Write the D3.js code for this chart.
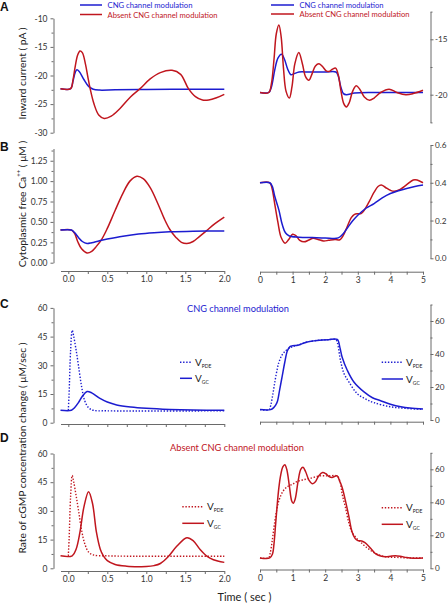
<!DOCTYPE html>
<html><head><meta charset="utf-8">
<script src="https://cdn.jsdelivr.net/npm/d3@7"></script>
<style>
body{margin:0;background:#fff}
svg{display:block}
text{font-family:Lato,"Open Sans",sans-serif;fill:#222}
.axis path,.axis line{stroke:#6a6a6a;stroke-width:1}
.axis text{font-size:8.5px;fill:#333;font-family:Lato,"Open Sans",sans-serif}
</style>
</head><body>
<svg id="c" width="448" height="605"></svg>
<script>
// ---------------- DATA ----------------
const blueName = "CNG channel modulation";
const redName = "Absent CNG channel modulation";

// tick values
const xLeftMajor = [0, 0.5, 1.0, 1.5, 2.0];
const xLeftMinor = [0.25, 0.75, 1.25, 1.75];
const xRightMajor = [0, 1, 2, 3, 4, 5];
const xRightMinor = [0.5, 1.5, 2.5, 3.5, 4.5];
const aLeftMajor = [-30, -25, -20, -15, -10];
const aLeftMinor = [-27.5, -22.5, -17.5, -12.5];
const aRightMajor = [-20, -15];
const aRightMinor = [-22.5, -17.5, -12.5];
const bLeftMajor = [0, 0.25, 0.5, 0.75, 1.0, 1.25];
const bLeftMinor = [0.125, 0.375, 0.625, 0.875, 1.125, 1.375];
const bRightMajor = [0, 0.2, 0.4, 0.6];
const bRightMinor = [0.1, 0.3, 0.5];
const cdLeftMajor = [0, 15, 30, 45, 60];
const cdLeftMinor = [7.5, 22.5, 37.5, 52.5];
const cdRightMajor = [0, 20, 40, 60];
const cdRightMinor = [10, 30, 50, 70];

// Panel A : inward current (pA)
const aLeftCNG = [[-0.1,-22.3],[0.03,-22.3],[0.06,-21.0],[0.09,-19.4],[0.11,-19.0],[0.14,-19.3],[0.2,-20.7],[0.26,-21.9],[0.32,-22.4],[0.4,-22.55],[0.6,-22.5],[1.0,-22.45],[1.5,-22.4],[2.0,-22.4]];
const aLeftAbsent = [[-0.1,-22.3],[0.03,-22.3],[0.06,-20.8],[0.09,-18.3],[0.12,-16.4],[0.15,-15.7],[0.18,-16.0],[0.22,-18.0],[0.25,-20.2],[0.28,-22.3],[0.33,-25.0],[0.39,-26.9],[0.46,-27.5],[0.55,-27.1],[0.66,-25.8],[0.8,-23.7],[0.92,-22.3],[1.05,-20.6],[1.18,-19.5],[1.33,-19.1],[1.44,-19.8],[1.54,-22.3],[1.63,-23.7],[1.72,-24.3],[1.8,-24.3],[1.9,-23.9],[2.0,-23.3]];
const aRightCNG = [[0,-19.8],[0.27,-19.8],[0.35,-19.3],[0.45,-17.8],[0.55,-16.7],[0.66,-16.35],[0.75,-16.8],[0.85,-17.7],[0.95,-18.2],[1.05,-18.1],[1.2,-17.95],[1.5,-17.95],[2.0,-17.95],[2.33,-17.95],[2.4,-18.3],[2.48,-19.3],[2.56,-19.9],[2.65,-20.0],[2.9,-19.85],[3.5,-19.8],[5.0,-19.8]];
const aRightAbsent = [[0,-19.8],[0.27,-19.8],[0.35,-19.0],[0.43,-16.8],[0.5,-14.5],[0.58,-13.7],[0.65,-14.8],[0.72,-17.6],[0.8,-19.7],[0.9,-20.3],[0.98,-19.3],[1.07,-17.2],[1.19,-16.2],[1.3,-17.2],[1.4,-18.4],[1.5,-18.7],[1.6,-18.1],[1.7,-17.4],[1.81,-17.2],[1.93,-17.5],[2.03,-17.85],[2.12,-17.9],[2.22,-17.7],[2.32,-17.6],[2.4,-18.2],[2.48,-19.6],[2.57,-20.8],[2.65,-21.1],[2.74,-20.7],[2.84,-19.7],[2.95,-19.2],[3.06,-19.5],[3.2,-20.2],[3.36,-20.5],[3.5,-20.3],[3.7,-19.8],[3.96,-19.5],[4.2,-19.8],[4.47,-20.0],[4.7,-19.9],[5.0,-19.6]];

// Panel B : cytoplasmic free Ca (uM)
const bLeftCNG = [[-0.1,0.4],[0.04,0.4],[0.08,0.37],[0.13,0.31],[0.18,0.26],[0.24,0.235],[0.3,0.245],[0.4,0.27],[0.5,0.29],[0.7,0.325],[0.9,0.352],[1.1,0.368],[1.3,0.378],[1.6,0.386],[2.0,0.39]];
const bLeftAbsent = [[-0.1,0.4],[0.04,0.4],[0.08,0.36],[0.12,0.26],[0.17,0.17],[0.24,0.12],[0.3,0.14],[0.36,0.2],[0.43,0.29],[0.5,0.42],[0.6,0.64],[0.7,0.85],[0.79,1.0],[0.88,1.06],[0.96,1.03],[1.05,0.92],[1.15,0.72],[1.23,0.54],[1.3,0.41],[1.38,0.31],[1.45,0.25],[1.52,0.235],[1.6,0.26],[1.68,0.32],[1.77,0.39],[1.88,0.48],[2.0,0.56]];
const bRightCNG = [[0,0.4],[0.3,0.4],[0.38,0.38],[0.45,0.33],[0.58,0.255],[0.68,0.18],[0.78,0.135],[0.9,0.118],[1.2,0.112],[1.6,0.11],[2.0,0.108],[2.4,0.108],[2.55,0.13],[2.7,0.165],[2.85,0.2],[3.0,0.228],[3.25,0.265],[3.5,0.29],[3.75,0.32],[4.0,0.343],[4.25,0.358],[4.5,0.37],[4.75,0.38],[5.0,0.388]];
const bRightAbsent = [[0,0.4],[0.3,0.4],[0.37,0.37],[0.45,0.29],[0.55,0.19],[0.65,0.11],[0.77,0.08],[0.88,0.1],[1.0,0.127],[1.1,0.12],[1.22,0.095],[1.35,0.087],[1.5,0.097],[1.63,0.106],[1.78,0.1],[1.95,0.092],[2.1,0.095],[2.3,0.1],[2.45,0.098],[2.55,0.12],[2.68,0.17],[2.8,0.215],[2.9,0.233],[3.0,0.236],[3.1,0.237],[3.2,0.255],[3.35,0.3],[3.5,0.35],[3.62,0.38],[3.72,0.388],[3.85,0.375],[4.0,0.36],[4.12,0.355],[4.3,0.365],[4.5,0.39],[4.7,0.415],[4.82,0.415],[5.0,0.4]];

// Panel C : rate of cGMP concentration change (uM/sec), CNG modulation
const cLeftPDE = [[0,6.5],[0.01,15],[0.03,38],[0.05,48.3],[0.07,45],[0.1,38],[0.13,30],[0.17,19],[0.21,11.5],[0.26,7.8],[0.32,6.5],[0.5,6.2],[2.0,6.2]];
const cLeftGC = [[-0.1,6.5],[0.04,6.5],[0.08,7.8],[0.13,10.5],[0.18,13.8],[0.24,16.3],[0.3,15.6],[0.4,12.8],[0.5,10.8],[0.62,9.3],[0.8,8.2],[1.0,7.5],[1.3,6.9],[1.6,6.6],[2.0,6.5]];
const cRightPDE = [[0,6.3],[0.28,6.3],[0.33,9],[0.38,14],[0.43,20],[0.5,28],[0.58,35],[0.68,39.5],[0.79,42],[0.9,43.5],[1.0,44.5],[1.2,45.5],[1.45,47.3],[1.75,48.2],[2.1,48.7],[2.32,48.7],[2.37,47],[2.47,36],[2.58,28],[2.73,23],[2.98,16],[3.25,12.6],[3.5,10.5],[4.0,8],[4.5,7],[5.0,6.5]];
const cRightGC = [[0,6.3],[0.33,6.3],[0.42,7.5],[0.48,9],[0.53,11],[0.6,18],[0.68,26.5],[0.76,35],[0.84,42],[0.92,44.5],[1.0,45],[1.15,45.3],[1.3,46.3],[1.45,47.3],[1.75,48.2],[2.1,48.7],[2.37,48.8],[2.45,44],[2.52,38],[2.68,30],[2.88,23],[3.19,17],[3.45,13.5],[3.7,11.7],[4.0,9.6],[4.32,8],[4.6,7.2],[5.0,6.7]];

// Panel D : rate of cGMP concentration change (uM/sec), absent CNG modulation
const dLeftPDE = [[0,6.5],[0.01,15],[0.03,38],[0.05,48.5],[0.07,45],[0.1,38],[0.13,30.5],[0.17,20],[0.21,13],[0.26,8.5],[0.32,7],[0.5,6.5],[2.0,6.3]];
const dLeftGC = [[-0.1,6.5],[0.05,6.5],[0.1,10],[0.15,19],[0.2,32],[0.26,40],[0.31,34],[0.36,19],[0.41,10],[0.45,6.5],[0.5,4],[0.6,2],[0.75,1.1],[0.9,0.85],[1.0,0.9],[1.1,1.4],[1.18,2.5],[1.28,6],[1.39,11.5],[1.52,16],[1.6,14.5],[1.69,9.8],[1.78,6.2],[1.86,4.5],[2.0,3.1]];
const dRightPDE = [[0,6.3],[0.26,6.3],[0.31,9],[0.37,16],[0.43,25],[0.5,34],[0.58,41],[0.7,46.5],[0.84,49.5],[1.0,51],[1.13,52.5],[1.3,53.5],[1.53,54.5],[1.84,56],[2.1,56],[2.36,56],[2.45,53],[2.52,45],[2.62,37],[2.72,28],[2.82,22],[2.95,18.5],[3.09,15.8],[3.2,13.8],[3.35,11.5],[3.5,9.5],[3.7,7.8],[3.9,6.9],[4.2,6.6],[4.6,6.3],[5.0,6.2]];
const dRightGC = [[0,6.3],[0.3,6.3],[0.38,8.5],[0.43,15],[0.48,27],[0.53,39],[0.58,49],[0.63,56],[0.7,61.5],[0.76,62.8],[0.82,60],[0.9,50],[0.97,41],[1.02,39.4],[1.08,42],[1.17,53],[1.25,60],[1.32,61.2],[1.4,58.5],[1.5,53.5],[1.6,51.2],[1.7,52.5],[1.8,56],[1.92,58],[2.02,57.3],[2.12,55.6],[2.21,55.1],[2.3,55.8],[2.37,56],[2.44,53],[2.52,49],[2.62,41],[2.73,31],[2.82,22.3],[2.92,18],[3.0,16.8],[3.12,16.5],[3.22,15.5],[3.4,12],[3.55,8.7],[3.7,7.4],[3.85,7.0],[4.0,7.3],[4.15,7.6],[4.3,7.3],[4.5,6.5],[4.7,6.1],[5.0,6.2]];

// ---------------- DRAWING ----------------
const BLUE = "#1c1cd0", RED = "#c0161e";
const svg = d3.select("#c");

const xL = d3.scaleLinear([-0.1, 2.0], [60.5, 224.3]);
const xR = d3.scaleLinear([0, 5], [260, 423]);

const yAL = d3.scaleLinear([-30, -10], [132.7, 18.3]);
const yAR = d3.scaleLinear([-22.5, -12.5], [122.4, 11.6]);
const yBL = d3.scaleLinear([0, 1.4], [262.7, 148.5]);
const yBR = d3.scaleLinear([0, 0.6], [258.3, 145]);
const yCL = d3.scaleLinear([0, 60], [422.7, 307.9]);
const yCR = d3.scaleLinear([0, 70], [420, 304.5]);
const yDL = d3.scaleLinear([0, 60], [568.3, 453.5]);
const yDR = d3.scaleLinear([0, 70], [568.3, 452.8]);

const LEFT_AX = 53.5, RIGHT_AX = 430.5;

function yAxis(scale, x, major, minor, side, fmt) {
  const mk = side === "left" ? d3.axisLeft : d3.axisRight;
  const g0 = svg.append("g").attr("class", "axis").attr("transform", `translate(${x},0)`)
    .call(mk(scale).tickValues(major).tickSize(3).tickSizeOuter(0).tickPadding(side === "left" ? 3 : 1.5).tickFormat(fmt));
  if (side === "right") g0.selectAll("text").style("font-size", "8.2px");
  const g = svg.append("g").attr("class", "axis").attr("transform", `translate(${x},0)`)
    .call(mk(scale).tickValues(minor).tickSize(2).tickFormat(""));
  g.select(".domain").remove();
}
function xAxis(scale, y, major, minor, fmt) {
  svg.append("g").attr("class", "axis").attr("transform", `translate(0,${y})`)
    .call(d3.axisBottom(scale).tickValues(major).tickSize(3).tickSizeOuter(0).tickPadding(2).tickFormat(fmt));
  const g = svg.append("g").attr("class", "axis").attr("transform", `translate(0,${y})`)
    .call(d3.axisBottom(scale).tickValues(minor).tickSize(3).tickFormat(""));
  g.select(".domain").remove();
}
function series(data, xs, ys, color, dotted) {
  const line = d3.line().x(d => xs(d[0])).y(d => ys(d[1])).curve(d3.curveCatmullRom.alpha(0.5));
  svg.append("path").datum(data).attr("d", line).attr("fill", "none")
    .attr("stroke", color).attr("stroke-width", dotted ? 1.4 : 1.5)
    .attr("stroke-dasharray", dotted ? "1.4,1.7" : null)
    .attr("stroke-linejoin", "round");
}

const plain = d => String(d);
const f2 = d3.format(".2f"), f1 = d3.format(".1f");

// axes
yAxis(yAL, LEFT_AX, aLeftMajor, aLeftMinor, "left", plain);
yAxis(yAR, RIGHT_AX, aRightMajor, aRightMinor, "right", plain);
yAxis(yBL, LEFT_AX, bLeftMajor, bLeftMinor, "left", f2);
yAxis(yBR, RIGHT_AX, bRightMajor, bRightMinor, "right", f1);
yAxis(yCL, LEFT_AX, cdLeftMajor, cdLeftMinor, "left", plain);
yAxis(yCR, RIGHT_AX, cdRightMajor, cdRightMinor, "right", plain);
yAxis(yDL, LEFT_AX, cdLeftMajor, cdLeftMinor, "left", plain);
yAxis(yDR, RIGHT_AX, cdRightMajor, cdRightMinor, "right", plain);

xAxis(xL, 271, xLeftMajor, xLeftMinor, f1);
xAxis(xR, 271.7, xRightMajor, xRightMinor, plain);
xAxis(xL, 424, xLeftMajor, xLeftMinor, () => "");
xAxis(xR, 421.7, xRightMajor, xRightMinor, () => "");
xAxis(xL, 571, xLeftMajor, xLeftMinor, f1);
xAxis(xR, 569.5, xRightMajor, xRightMinor, plain);

// series
series(aLeftCNG, xL, yAL, BLUE);
series(aLeftAbsent, xL, yAL, RED);
series(aRightCNG, xR, yAR, BLUE);
series(aRightAbsent, xR, yAR, RED);
series(bLeftAbsent, xL, yBL, RED);
series(bLeftCNG, xL, yBL, BLUE);
series(bRightAbsent, xR, yBR, RED);
series(bRightCNG, xR, yBR, BLUE);
series(cLeftPDE, xL, yCL, BLUE, true);
series(cLeftGC, xL, yCL, BLUE);
series(cRightPDE, xR, yCR, BLUE, true);
series(cRightGC, xR, yCR, BLUE);
series(dLeftPDE, xL, yDL, RED, true);
series(dLeftGC, xL, yDL, RED);
series(dRightPDE, xR, yDR, RED, true);
series(dRightGC, xR, yDR, RED);

// legends panel A
function lineLegend(x1, x2, y, color, label, width) {
  svg.append("line").attr("x1", x1).attr("x2", x2).attr("y1", y).attr("y2", y)
    .attr("stroke", color).attr("stroke-width", 1.5);
  svg.append("text").attr("x", x2 + 5.5).attr("y", y + 3).attr("font-size", 8.4)
    .attr("textLength", width).attr("lengthAdjust", "spacingAndGlyphs")
    .style("fill", color).text(label);
}
lineLegend(80, 102, 5, BLUE, blueName, 85);
lineLegend(80, 102, 14.5, RED, redName, 110);
lineLegend(271, 294, 5, BLUE, blueName, 84);
lineLegend(271, 294, 14, RED, redName, 110);

// V legends
function vLegend(x1, x2, y1, y2, color) {
  [[y1, true, "PDE"], [y2, false, "GC"]].forEach(([y, dotted, sub]) => {
    svg.append("line").attr("x1", x1).attr("x2", x2).attr("y1", y).attr("y2", y)
      .attr("stroke", color).attr("stroke-width", 1.5)
      .attr("stroke-dasharray", dotted ? "1.4,1.7" : null);
    const t = svg.append("text").attr("x", x2 + 3).attr("y", y + 3.5).attr("font-size", 10);
    t.append("tspan").text("V");
    t.append("tspan").attr("font-size", 5).attr("dy", 2).text(sub);
  });
}
vLegend(180, 192, 362.3, 378.3, BLUE);
vLegend(381.7, 403, 362.3, 379, BLUE);
vLegend(182.3, 204, 506.7, 523.3, RED);
vLegend(381.7, 403, 507.7, 524.3, RED);

// panel titles
svg.append("text").attr("x", 238).attr("y", 311.5).attr("text-anchor", "middle")
  .attr("font-size", 9.8).attr("textLength", 102).attr("lengthAdjust", "spacingAndGlyphs")
  .style("fill", BLUE).text(blueName);
svg.append("text").attr("x", 237).attr("y", 451).attr("text-anchor", "middle")
  .attr("font-size", 9.8).attr("textLength", 134).attr("lengthAdjust", "spacingAndGlyphs")
  .style("fill", RED).text(redName);

// panel letters
[["A", 11], ["B", 151], ["C", 307.5], ["D", 441.5]].forEach(([l, y]) => {
  svg.append("text").attr("x", 0).attr("y", y).attr("font-size", 12)
    .attr("font-weight", "bold").style("font-family", "'Liberation Sans', Arial, sans-serif")
    .style("fill", "#111").text(l);
});

// y-axis titles
function yTitle(cy, build) {
  const t = svg.append("text").attr("transform", `translate(25.5,${cy}) rotate(-90)`)
    .attr("text-anchor", "middle").attr("font-size", 10.3).style("fill", "#222");
  build(t);
}
yTitle(73.5, t => t.text("Inward current   ( pA )"));
yTitle(204, t => {
  t.append("tspan").text("Cytoplasmic free Ca");
  t.append("tspan").attr("font-size", 6).attr("dy", -5).text("++");
  t.append("tspan").attr("dy", 5).text("   ( μM )");
});
yTitle(448, t => t.text("Rate of cGMP concentration change   ( μM/sec )"));

// x-axis title
svg.append("text").attr("x", 244.5).attr("y", 601).attr("text-anchor", "middle")
  .attr("font-size", 11).style("fill", "#222").text("Time ( sec )");
</script>
</body></html>
